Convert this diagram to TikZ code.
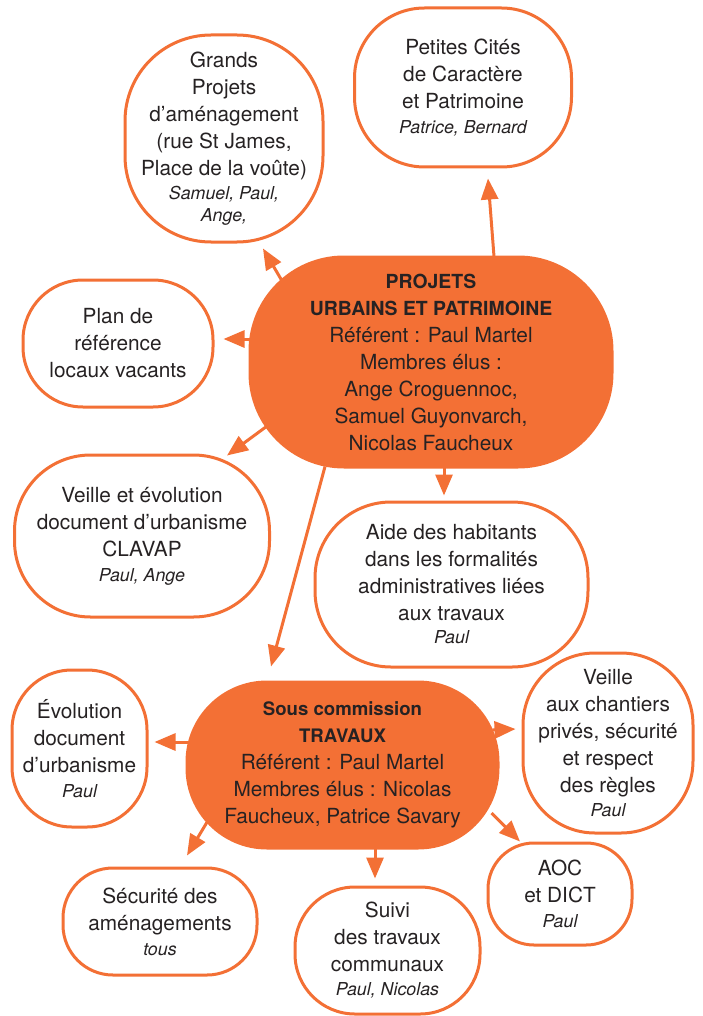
\documentclass[tikz,border=0pt]{standalone}
\usepackage{fontspec}
\setmainfont{TeX Gyre Heros}
\usetikzlibrary{arrows.meta}
\definecolor{orng}{RGB}{243,112,53}
\definecolor{ink}{RGB}{38,34,35}
\newcommand{\qui}[1]{{\fontsize{8.9}{11}\selectfont\itshape #1}}
\newcommand{\titre}[2][9.7]{{\fontsize{#1}{13.5}\selectfont\bfseries #2}}

\begin{document}
\begin{tikzpicture}[x=0.5pt, y=-0.5pt,
		main/.style = {draw=orng, line width=1.5pt, fill=white, text=ink, align=center, inner sep=0pt, font=\fontsize{10.4}{13.5}\selectfont},
		group/.style = {main, fill=orng},
		arr/.style = {draw=orng, line width=1.5pt, -{Triangle[length=10.5pt, width=8.5pt]}}]
		\useasboundingbox (0,0) rectangle (702,1016);
		\node[group, minimum width=181pt, minimum height=105pt, rounded corners=47pt] (1) at (431,362) {\titre{PROJETS}\\ \titre{URBAINS ET PATRIMOINE}\\ Référent : Paul Martel\\ Membres élus :\\ Ange Croguennoc,\\ Samuel Guyonvarch,\\ Nicolas Faucheux};
		\node[main, minimum width=108.5pt, minimum height=79.5pt, rounded corners=35pt] (2) at (463,87.5) {Petites Cités\\ de Caractère\\ et Patrimoine\\[-1pt] \qui{Patrice, Bernard}};
		\node[main, minimum width=99pt, minimum height=103.5pt, rounded corners=43pt] (3) at (224,138.5) {Grands\\ Projets\\ d’aménagement\\ (rue St James,\\ Place de la voûte)\\[-1.5pt] \qui{Samuel, Paul,}\\[-2.5pt] \qui{Ange,}};
		\node[main, minimum width=95pt, minimum height=63.5pt, rounded corners=30pt] (4) at (118,343.5) {Plan de\\ référence\\ locaux vacants};
		\node[main, minimum width=127.5pt, minimum height=81pt, rounded corners=38pt] (5) at (142,536) {Veille et évolution\\ document d’urbanisme\\ CLAVAP\\[-1pt] \qui{Paul, Ange}};
		\node[main, minimum width=136.5pt, minimum height=82.5pt, rounded corners=38pt] (6) at (451.5,584.5) {Aide des habitants\\ dans les formalités\\ administratives liées\\ aux travaux\\[-2pt] \qui{Paul}};
		\node[group, minimum width=155.5pt, minimum height=83pt, rounded corners=40pt] (7) at (342.5,765) {\titre[9.3]{Sous commission}\\ \titre[9.3]{TRAVAUX}\\ Référent : Paul Martel\\ Membres élus : Nicolas\\ Faucheux, Patrice Savary};
		\node[main, minimum width=67.5pt, minimum height=78.5pt, rounded corners=30pt] (8) at (79.5,748.5) {Évolution\\ document\\ d’urbanisme\\[-1pt] \qui{Paul}};
		\node[main, minimum width=85pt, minimum height=90pt, rounded corners=36pt] (9) at (608,743) {Veille\\ aux chantiers\\ privés, sécurité\\ et respect\\ des règles\\[-1.5pt] \qui{Paul}};
		\node[main, minimum width=72pt, minimum height=51pt, rounded corners=23pt] (10) at (560,894) {AOC\\ et DICT\\[-1pt] \qui{Paul}};
		\node[main, minimum width=92.5pt, minimum height=63.5pt, rounded corners=30pt] (11) at (387.5,950.5) {Suivi\\ des travaux\\ communaux\\[-1.5pt] \qui{Paul, Nicolas}};
		\node[main, minimum width=97pt, minimum height=53.5pt, rounded corners=25pt] (12) at (160,921.5) {Sécurité des\\ aménagements\\[-1pt] \qui{tous}};
		\draw[arr] ([shift={(63,1)}]1.north) -- ([shift={(25,10)}]2.south);
		\draw[arr] ([shift={(33,-82)}]1.west) -- ([shift={(39,5)}]3.south);
		\draw[arr] ([shift={(2,-23)}]1.west) -- ([shift={(9,-4.5)}]4.east);
		\draw[arr] ([shift={(20,63)}]1.west) -- ([shift={(85,2)}]5.north);
		\draw[arr] ([shift={(13,-1)}]1.south) -- ([shift={(-7.5,-5)}]6.north);
		\draw[arr] ([shift={(-106,-2)}]1.south) -- ([shift={(-71.5,-14)}]7.north);
		\draw[arr] ([shift={(2,-23)}]7.west) -- ([shift={(6,-6.5)}]8.east);
		\draw[arr] ([shift={(-7,-35)}]7.east) -- ([shift={(-6,-14)}]9.west);
		\draw[arr] ([shift={(-8,48)}]7.east) -- ([shift={(-40,0)}]10.north);
		\draw[arr] ([shift={(32.5,-1)}]7.south) -- ([shift={(-12.5,-7)}]11.north);
		\draw[arr] ([shift={(24,53)}]7.west) -- ([shift={(27,-11)}]12.north);
	\end{tikzpicture}
\end{document}
